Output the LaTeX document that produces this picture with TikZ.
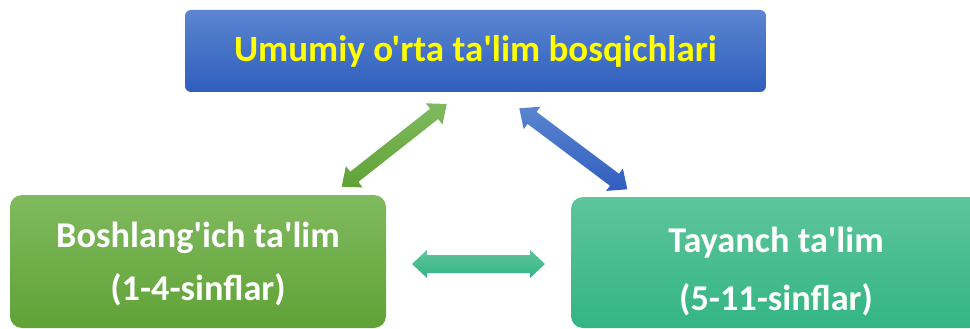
\documentclass[tikz,border=0pt]{standalone}
\usepackage{fontspec}
\setmainfont{Carlito}[Ligatures=TeXOff]
\usetikzlibrary{calc}
\definecolor{bluetop}{HTML}{5B85D0}
\definecolor{bluebot}{HTML}{2F5EBE}
\definecolor{greentop}{HTML}{80BA5F}
\definecolor{greenbot}{HTML}{60A236}
\definecolor{tealtop}{HTML}{5EC59B}
\definecolor{tealbot}{HTML}{33B584}
\definecolor{txtyellow}{HTML}{FFFF00}
\newcommand{\blkarrow}[6]{%
  \path[#6] (#1)
    -- ($(#1)!#5!(#2)!#4!90:(#2)$)
    -- ($(#1)!#5!(#2)!#3!90:(#2)$)
    -- ($(#2)!#5!(#1)!#3!-90:(#1)$)
    -- ($(#2)!#5!(#1)!#4!-90:(#1)$)
    -- (#2)
    -- ($(#2)!#5!(#1)!#4!90:(#1)$)
    -- ($(#2)!#5!(#1)!#3!90:(#1)$)
    -- ($(#1)!#5!(#2)!#3!-90:(#2)$)
    -- ($(#1)!#5!(#2)!#4!-90:(#2)$)
    -- cycle;}
\tikzset{
  stagebox/.style={rounded corners=12pt, inner sep=0pt},
  stagetext/.style={inner sep=0pt, align=center, text=white},
  topbox/.style={rounded corners=6pt, inner sep=0pt, align=center,
    top color=bluetop, bottom color=bluebot,
    text=txtyellow, font=\bfseries\fontsize{37}{44}\selectfont},
  greenfill/.style={top color=greentop, bottom color=greenbot},
  bluefill/.style={top color=bluetop, bottom color=bluebot},
  tealfill/.style={top color=tealtop, bottom color=tealbot}
}
\begin{document}
\begin{tikzpicture}[x=1pt,y=-1pt]
\useasboundingbox (0,0) rectangle (970,329);
\clip (0,0) rectangle (970,329);
\fill[white] (0,0) rectangle (970,329);
\node[topbox, minimum width=581pt, minimum height=82pt] (top) at (475.5,51) {Umumiy o'rta ta'lim bosqichlari};
\node[stagebox, greenfill, minimum width=376pt, minimum height=133pt] (left) at (198,261.5) {};
\node[stagebox, tealfill, minimum width=410pt, minimum height=131pt] (right) at (776,262.5) {};
\node[stagetext, font=\bfseries\fontsize{36.3}{53}\selectfont] (lefttxt) at ($(left.center)+(0,3)$) {Boshlang'ich ta'lim\\(1-4-sinflar)};
\node[stagetext, font=\bfseries\fontsize{36.3}{58.5}\selectfont] (righttxt) at ($(right.center)+(0,9)$) {Tayanch ta'lim\\(5-11-sinflar)};
\coordinate (ga) at (341.7,186.7);
\coordinate (gb) at (446.7,104);
\coordinate (ba) at (519.3,108.3);
\coordinate (bb) at (627.3,189.3);
\coordinate (ta) at (412,264);
\coordinate (tb) at (545,264);
\blkarrow{ga}{gb}{6.5pt}{13.5pt}{16pt}{greenfill}
\blkarrow{ba}{bb}{7.5pt}{14pt}{16pt}{bluefill}
\blkarrow{ta}{tb}{9pt}{14pt}{15pt}{tealfill}
\end{tikzpicture}
\end{document}
